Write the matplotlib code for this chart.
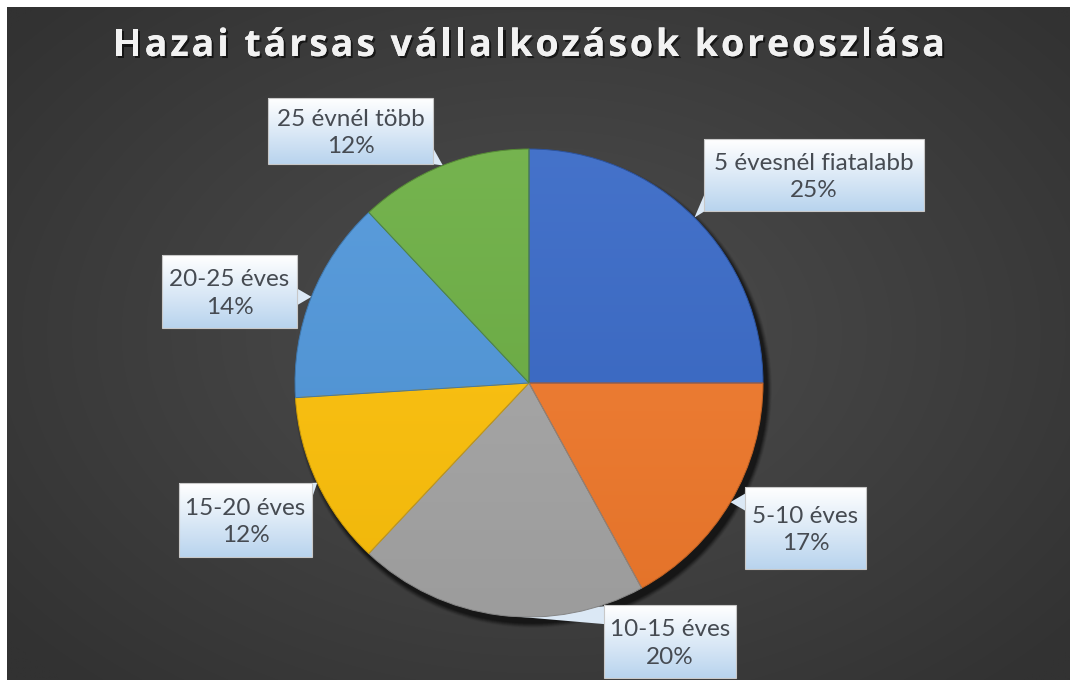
import numpy as np
import matplotlib
matplotlib.use("Agg")
import matplotlib.pyplot as plt
from matplotlib.patches import Rectangle, Circle, Polygon
from matplotlib.font_manager import FontProperties
from matplotlib.colors import to_rgb
import matplotlib.patheffects as pe

# data
title = "Hazai társas vállalkozások koreoszlása"
categories = ["5 évesnél fiatalabb", "5-10 éves", "10-15 éves",
              "15-20 éves", "20-25 éves", "25 évnél több"]
shares = [25, 17, 20, 12, 14, 12]
colors = ["#3768C6", "#F27A2C", "#A6A6A6", "#FFC20A", "#4F96DA", "#6BAE42"]

# layout (pixels, y down)
W, H = 1070, 680
cx, cy, r = 529, 383, 234
label_boxes = [(704, 139, 924, 211), (745, 487, 866, 569), (604, 605, 736, 678),
               (179, 483, 312, 557), (162, 255, 297, 328), (268, 98, 433, 164)]

fig = plt.figure(figsize=(W / 100, H / 100), dpi=100, facecolor="white")
bg = fig.add_axes([0, 0, 1, 1])
bg.axis("off")

# dark radial background
yy, xx = np.mgrid[0:H, 0:W]
d = np.sqrt(((xx - 540) / 700.0) ** 2 + ((yy - 330) / 480.0) ** 2)
d = np.clip(d, 0, 1)[..., None]
inner = np.array(to_rgb("#4e4e4e"))
outer = np.array(to_rgb("#323232"))
bg.imshow(inner * (1 - d) + outer * d, extent=(7, W, H, 7), origin="upper",
          interpolation="bilinear")

# pie shadow
for k, a in zip(range(10, 0, -1), np.linspace(0.03, 0.14, 10)):
    bg.add_patch(Circle((cx + 4, cy + 6), r + k * 0.5, color="black", alpha=a, lw=0))


def shade(c, f):
    c = np.array(to_rgb(c))
    return c + (1 - c) * f if f > 0 else c * (1 + f)


# callout boxes
total = sum(shares)
cum = np.cumsum([0] + shares)
for i, (cat, v) in enumerate(zip(categories, shares)):
    x0, y0, x1, y1 = label_boxes[i]
    mid = (cum[i] + v / 2) / total
    ang = np.deg2rad(90 - 360 * mid)
    tx, ty = cx + r * np.cos(ang), cy - r * np.sin(ang)
    hw = 9
    if tx < x0:
        c = np.clip(ty, y0 + hw, y1 - hw)
        base = [(x0 + 1, c - hw), (x0 + 1, c + hw)]
    elif tx > x1:
        c = np.clip(ty, y0 + hw, y1 - hw)
        base = [(x1 - 1, c - hw), (x1 - 1, c + hw)]
    elif ty > y1:
        c = np.clip(tx, x0 + hw, x1 - hw)
        base = [(c - hw, y1 - 1), (c + hw, y1 - 1)]
    else:
        c = np.clip(tx, x0 + hw, x1 - hw)
        base = [(c - hw, y0 + 1), (c + hw, y0 + 1)]
    bg.add_patch(Polygon([(tx, ty)] + base, closed=True, fc="#dbe8f5",
                         ec="none", zorder=3))
    g = np.linspace(0, 1, 64)[:, None, None]
    top, bot = np.array(to_rgb("#ffffff")), np.array(to_rgb("#b9d4ee"))
    grad = top * (1 - g) + bot * g
    bg.imshow(np.repeat(grad, 2, axis=1), extent=(x0, x1, y1, y0),
              origin="upper", zorder=4, interpolation="bilinear")
    bg.add_patch(Rectangle((x0, y0), x1 - x0, y1 - y0, fill=False,
                           ec="#c8c8c8", lw=0.8, zorder=5))
    bg.text((x0 + x1) / 2, (y0 + y1) / 2 + 2, f"{cat}\n{round(v / total * 100)}%",
            ha="center", va="center", fontsize=17.5, color="#464b52",
            family="Lato", linespacing=1.4, zorder=6)

bg.set_aspect("auto")
bg.set_xlim(0, W)
bg.set_ylim(H, 0)

# title with letter spacing, sized to the reference width
renderer = fig.canvas.get_renderer()
title_w, gap = 832, 3.0
fp = FontProperties(family="Open Sans", weight="bold", size=20)
natural = renderer.get_text_width_height_descent(title, fp, ismath=False)[0]
fp.set_size(20 * (title_w - gap * (len(title) - 1)) / natural)
hh = renderer.get_text_width_height_descent("HH", fp, ismath=False)[0]
adv = [renderer.get_text_width_height_descent("H" + ch + "H", fp, ismath=False)[0] - hh
       for ch in title]
spacing = (title_w - sum(adv)) / (len(title) - 1)
x = 529 - title_w / 2
for ch, a in zip(title, adv):
    bg.text(x, 56, ch, fontproperties=fp, color="#f2f2f2", ha="left",
            va="baseline", zorder=7,
            path_effects=[pe.withSimplePatchShadow(offset=(1.5, -1.5),
                                                    shadow_rgbFace="black", alpha=0.6),
                          pe.Normal()])
    x += a + spacing

# pie
pax = fig.add_axes([(cx - r) / W, (H - cy - r) / H, 2 * r / W, 2 * r / H])
pax.axis("off")
wedges, _ = pax.pie(shares, startangle=90, counterclock=False, colors=colors,
                    radius=1.0)
for w, col in zip(wedges, colors):
    g = np.linspace(0, 1, 128)[:, None, None]
    grad = shade(col, 0.07) * (1 - g) + shade(col, -0.06) * g
    im = pax.imshow(np.repeat(grad, 2, axis=1), extent=(-1, 1, -1, 1),
                    origin="upper", zorder=2, interpolation="bilinear")
    im.set_clip_path(w)
    w.set_facecolor("none")
    w.set_edgecolor(shade(col, -0.2))
    w.set_linewidth(0.7)
    w.set_zorder(3)
pax.set_xlim(-1, 1)
pax.set_ylim(-1, 1)

fig.savefig("out.png", dpi=100, facecolor="white")
